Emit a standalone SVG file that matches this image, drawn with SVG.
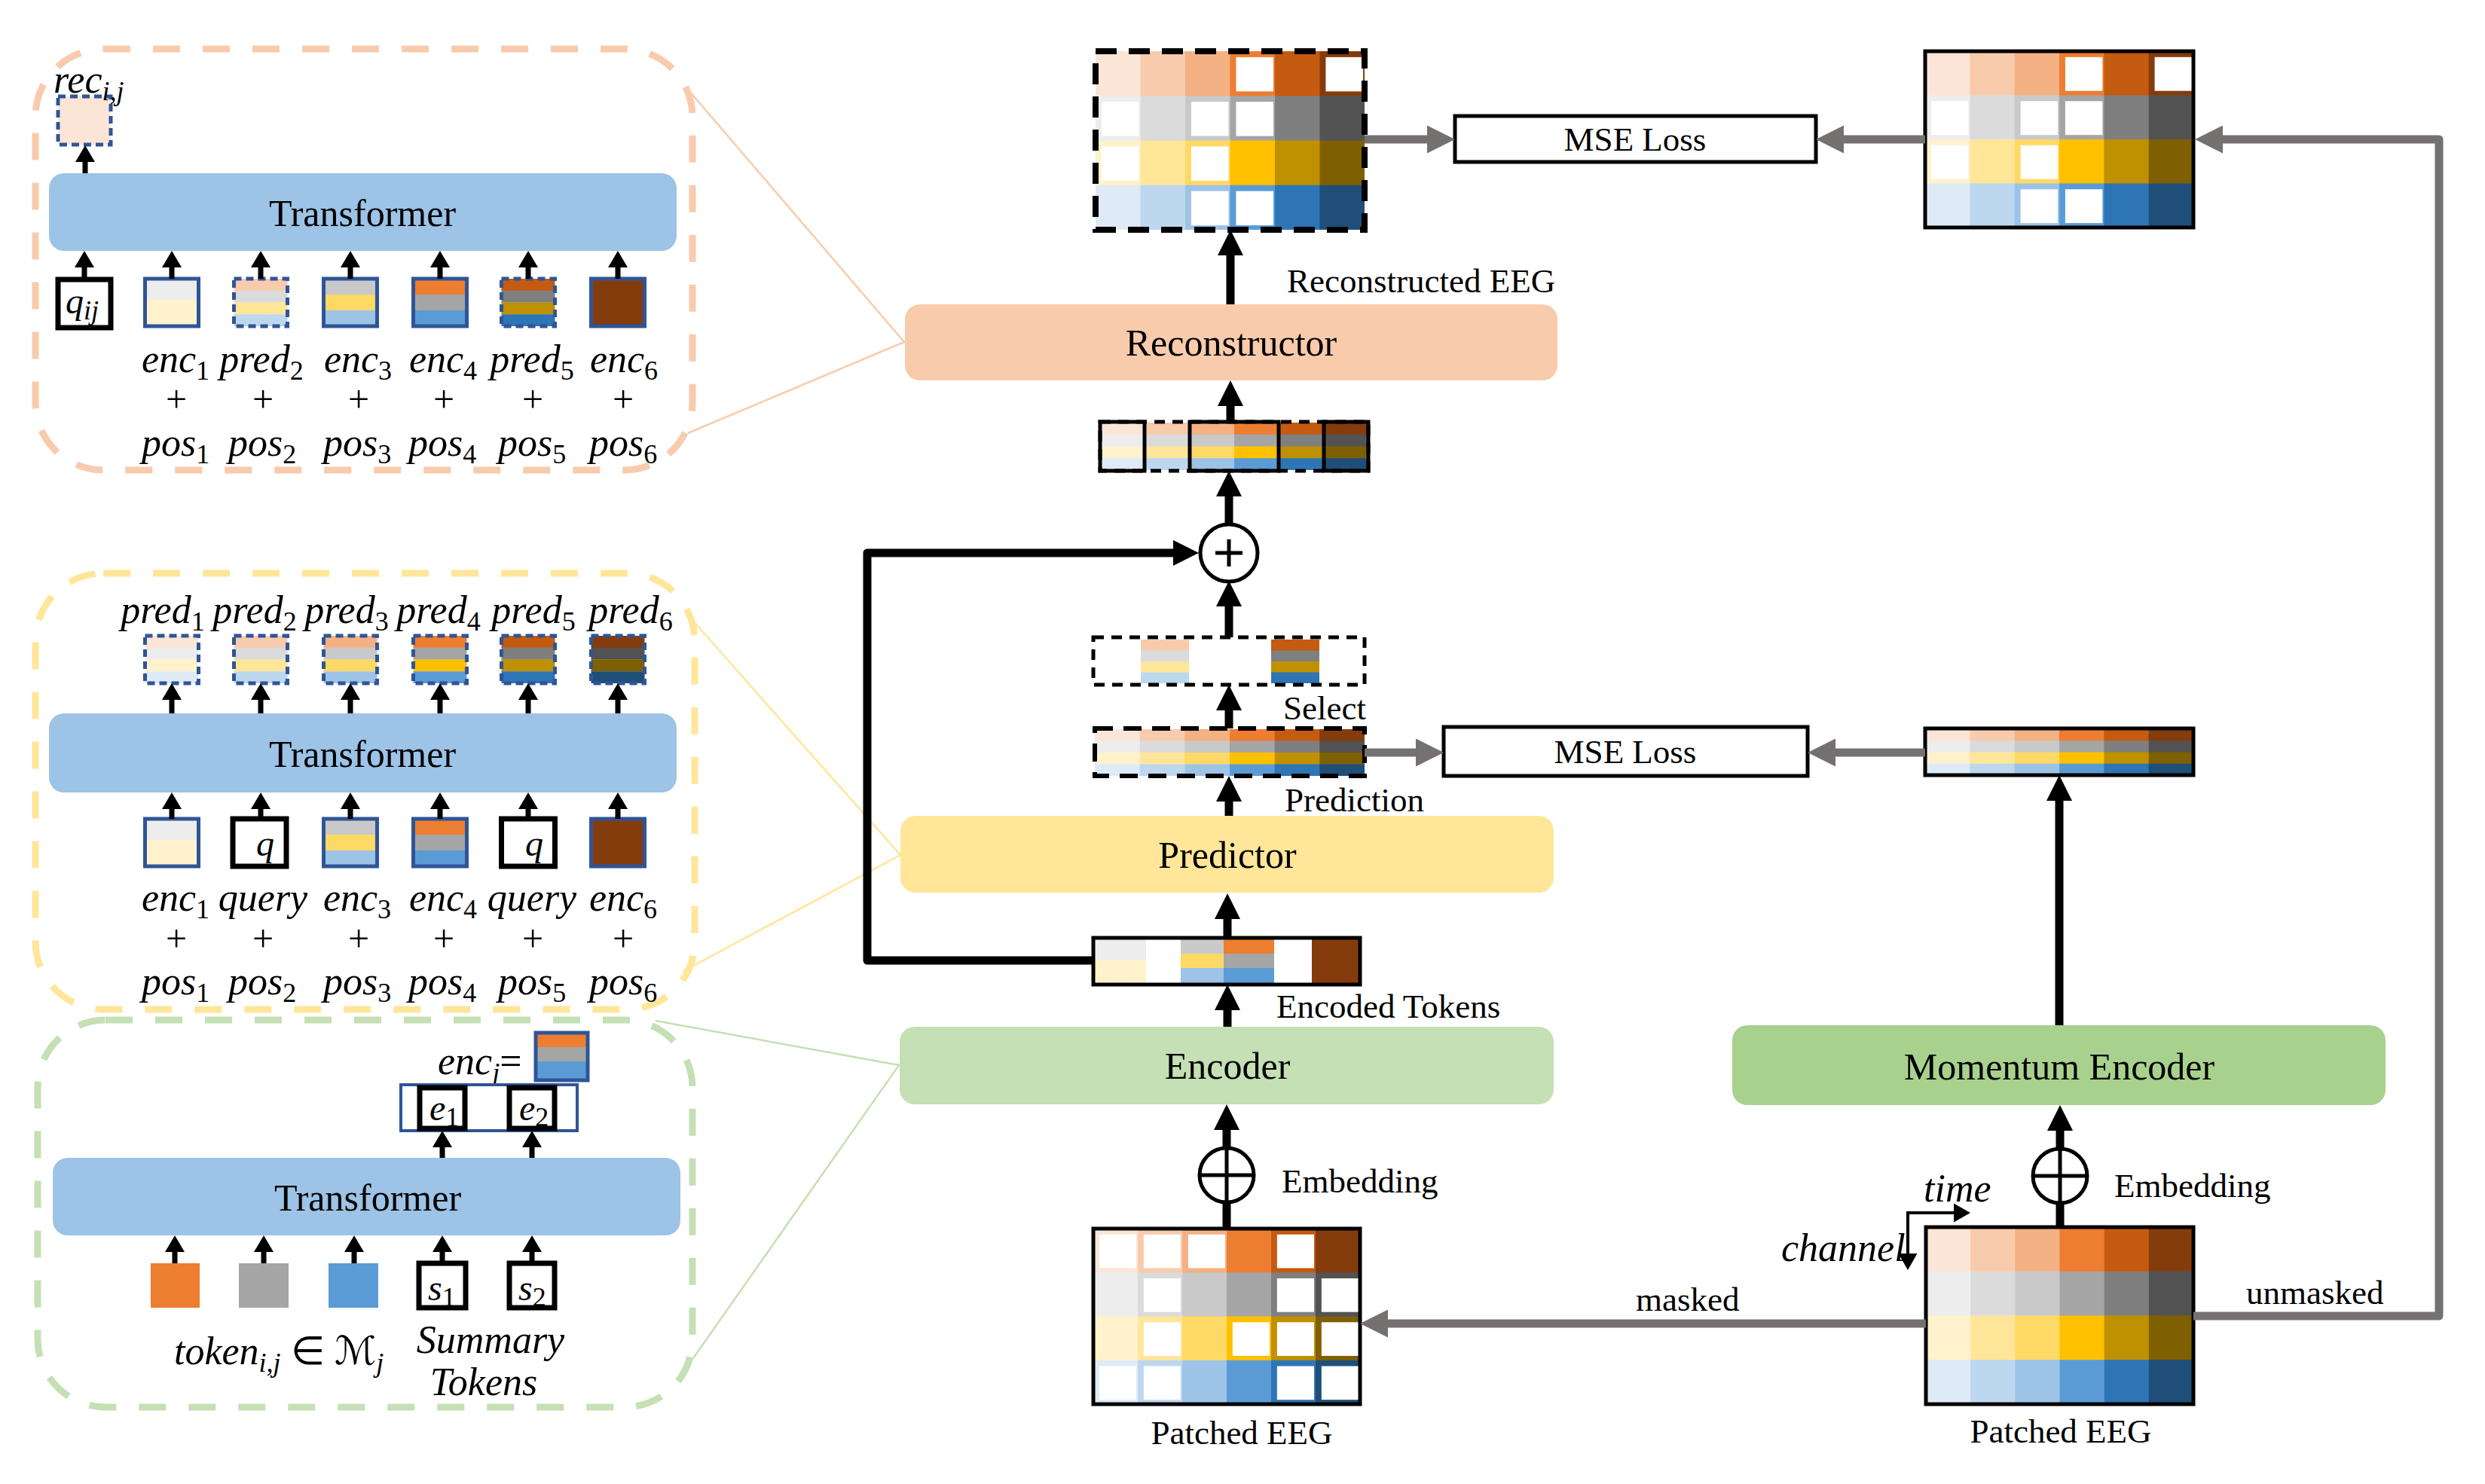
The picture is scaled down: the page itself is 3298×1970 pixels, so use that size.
<svg xmlns="http://www.w3.org/2000/svg" width="3298" height="1970" viewBox="0 0 3298 1970">
<style>
.lbl{font-family:"Liberation Serif","Times New Roman",serif;font-size:45px;fill:#000}
.bx{font-family:"Liberation Serif","Times New Roman",serif;font-size:50px;text-anchor:middle;fill:#000}
.m{font-family:"Liberation Serif","Times New Roman",serif;font-style:italic;font-size:52px;fill:#000}
.mi{font-family:"Liberation Serif","Times New Roman",serif;font-style:italic;font-size:48px;fill:#000}
.c{text-anchor:middle}
.sb{font-size:36px;font-style:normal}
.si{font-size:36px}
.pl{font-family:"Liberation Serif","Times New Roman",serif;font-size:50px;text-anchor:middle;fill:#000}
.arr{stroke:#000;stroke-width:11;fill:none}
.arrs{stroke:#000;stroke-width:7;fill:none}
.garr{stroke:#767171;stroke-width:11;fill:none;stroke-linejoin:round}
.tk{stroke:#2F5597;stroke-width:5;fill:none}
.tkd{stroke:#2F5597;stroke-width:5;fill:none;stroke-dasharray:10 6}
.qb{stroke:#000;stroke-width:7;fill:#fff}
.bd{stroke:#000;stroke-width:5;fill:none}
.bdd{stroke:#000;stroke-width:5;fill:none;stroke-dasharray:14 10}
.w{fill:#fff}
.tf{fill:#9DC3E6}
.pan{fill:none;stroke-width:9;stroke-dasharray:36 30}
.zl{fill:none;stroke-width:2.5}
.circ{fill:#fff;stroke:#000;stroke-width:5}
</style>
<defs>
<marker id="ah" markerUnits="userSpaceOnUse" markerWidth="34" markerHeight="34" refX="0" refY="17" orient="auto"><path d="M0,0 L34,17 L0,34 z" fill="#000"/></marker>
<marker id="ahs" markerUnits="userSpaceOnUse" markerWidth="22" markerHeight="26" refX="0" refY="13" orient="auto"><path d="M0,0 L22,13 L0,26 z" fill="#000"/></marker>
<marker id="ahg" markerUnits="userSpaceOnUse" markerWidth="37" markerHeight="37" refX="0" refY="18.5" orient="auto"><path d="M0,0 L37,18.5 L0,37 z" fill="#767171"/></marker>
<marker id="aht" markerUnits="userSpaceOnUse" markerWidth="22" markerHeight="25" refX="0" refY="12.5" orient="auto"><path d="M0,0 L22,12.5 L0,25 z" fill="#000"/></marker>
<g id="eeg">
<rect x="0" y="0" width="61" height="61" fill="#FBE5D6"/><rect x="60" y="0" width="61" height="61" fill="#F8CBAD"/><rect x="120" y="0" width="61" height="61" fill="#F4B183"/><rect x="180" y="0" width="61" height="61" fill="#ED7D31"/><rect x="240" y="0" width="61" height="61" fill="#C55A11"/><rect x="300" y="0" width="60" height="61" fill="#843C0C"/>
<rect x="0" y="60" width="61" height="61" fill="#EDEDED"/><rect x="60" y="60" width="61" height="61" fill="#DBDBDB"/><rect x="120" y="60" width="61" height="61" fill="#C9C9C9"/><rect x="180" y="60" width="61" height="61" fill="#A5A5A5"/><rect x="240" y="60" width="61" height="61" fill="#7F7F7F"/><rect x="300" y="60" width="60" height="61" fill="#525252"/>
<rect x="0" y="120" width="61" height="61" fill="#FFF2CC"/><rect x="60" y="120" width="61" height="61" fill="#FFE699"/><rect x="120" y="120" width="61" height="61" fill="#FFD966"/><rect x="180" y="120" width="61" height="61" fill="#FFC000"/><rect x="240" y="120" width="61" height="61" fill="#BF9000"/><rect x="300" y="120" width="60" height="61" fill="#7F6000"/>
<rect x="0" y="180" width="61" height="60" fill="#DEEBF7"/><rect x="60" y="180" width="61" height="60" fill="#BDD7EE"/><rect x="120" y="180" width="61" height="60" fill="#9DC3E6"/><rect x="180" y="180" width="61" height="60" fill="#5B9BD5"/><rect x="240" y="180" width="61" height="60" fill="#2E75B6"/><rect x="300" y="180" width="60" height="60" fill="#1F4E79"/>
</g>
<g id="strip">
<rect x="0" y="0" width="61" height="17" fill="#FBE5D6"/><rect x="60" y="0" width="61" height="17" fill="#F8CBAD"/><rect x="120" y="0" width="61" height="17" fill="#F4B183"/><rect x="180" y="0" width="61" height="17" fill="#ED7D31"/><rect x="240" y="0" width="61" height="17" fill="#C55A11"/><rect x="300" y="0" width="60" height="17" fill="#843C0C"/>
<rect x="0" y="16" width="61" height="17" fill="#EDEDED"/><rect x="60" y="16" width="61" height="17" fill="#DBDBDB"/><rect x="120" y="16" width="61" height="17" fill="#C9C9C9"/><rect x="180" y="16" width="61" height="17" fill="#A5A5A5"/><rect x="240" y="16" width="61" height="17" fill="#7F7F7F"/><rect x="300" y="16" width="60" height="17" fill="#525252"/>
<rect x="0" y="32" width="61" height="17" fill="#FFF2CC"/><rect x="60" y="32" width="61" height="17" fill="#FFE699"/><rect x="120" y="32" width="61" height="17" fill="#FFD966"/><rect x="180" y="32" width="61" height="17" fill="#FFC000"/><rect x="240" y="32" width="61" height="17" fill="#BF9000"/><rect x="300" y="32" width="60" height="17" fill="#7F6000"/>
<rect x="0" y="48" width="61" height="16" fill="#DEEBF7"/><rect x="60" y="48" width="61" height="16" fill="#BDD7EE"/><rect x="120" y="48" width="61" height="16" fill="#9DC3E6"/><rect x="180" y="48" width="61" height="16" fill="#5B9BD5"/><rect x="240" y="48" width="61" height="16" fill="#2E75B6"/><rect x="300" y="48" width="60" height="16" fill="#1F4E79"/>
</g>
<g id="maskA" class="w">
<rect x="188" y="8" width="50" height="46"/><rect x="308" y="8" width="50" height="46"/>
<rect x="8" y="68" width="50" height="46"/><rect x="128" y="68" width="50" height="46"/><rect x="188" y="68" width="50" height="46"/>
<rect x="8" y="128" width="50" height="46"/><rect x="128" y="128" width="50" height="46"/>
<rect x="128" y="188" width="50" height="46"/><rect x="188" y="188" width="50" height="46"/>
</g>
<g id="maskB" class="w">
<rect x="8" y="8" width="50" height="46"/><rect x="68" y="8" width="50" height="46"/><rect x="128" y="8" width="50" height="46"/><rect x="248" y="8" width="50" height="46"/>
<rect x="68" y="68" width="50" height="46"/><rect x="248" y="68" width="50" height="46"/><rect x="308" y="68" width="50" height="46"/>
<rect x="68" y="128" width="50" height="46"/><rect x="188" y="128" width="50" height="46"/><rect x="248" y="128" width="50" height="46"/><rect x="308" y="128" width="50" height="46"/>
<rect x="8" y="188" width="50" height="46"/><rect x="68" y="188" width="50" height="46"/><rect x="248" y="188" width="50" height="46"/><rect x="308" y="188" width="50" height="46"/>
</g>
</defs>
<rect x="0" y="0" width="3298" height="1970" fill="#fff"/>

<!-- zoom lines from detail panels -->
<g id="zoom-lines">
<path class="zl" stroke="#F8CBAD" d="M915,121 L1200,454 L913,575"/>
<path class="zl" stroke="#FFE699" d="M917,821 L1195,1135 L907,1289"/>
<path class="zl" stroke="#C5E0B4" d="M870,1355 L1193,1414 L920,1803"/>
</g>

<!-- Panel 1: reconstructor detail -->
<g id="panel-reconstructor">
<rect class="pan" stroke="#F8CBAD" x="47" y="65" width="872" height="559" rx="90"/>
<rect class="tf" x="65" y="230" width="833" height="103" rx="20"/>
<text class="bx" x="481" y="300">Transformer</text>
<rect x="77" y="128" width="70" height="64" fill="#FBE5D6"/>
<rect x="77" y="128" width="70" height="64" class="tkd"/>
<text class="m" x="71" y="123">rec<tspan class="si" dy="10">i,j</tspan></text>
<rect x="77" y="371" width="70" height="64" class="qb"/>
<text class="mi" x="87" y="416">q<tspan class="si" dy="8">ij</tspan></text>
<rect x="192.5" y="370" width="71" height="28" fill="#EDEDED"/><rect x="192.5" y="398" width="71" height="35" fill="#FFF2CC"/><rect x="192.5" y="370" width="71" height="63" class="tk"/>
<rect x="310.5" y="370" width="71" height="16" fill="#F8CBAD"/><rect x="310.5" y="385.75" width="71" height="16" fill="#DBDBDB"/><rect x="310.5" y="401.5" width="71" height="16" fill="#FFE699"/><rect x="310.5" y="417.25" width="71" height="15.75" fill="#BDD7EE"/><rect x="310.5" y="370" width="71" height="63" class="tkd"/>
<rect x="429.5" y="370" width="71" height="21" fill="#C9C9C9"/><rect x="429.5" y="391" width="71" height="21" fill="#FFD966"/><rect x="429.5" y="412" width="71" height="21" fill="#9DC3E6"/><rect x="429.5" y="370" width="71" height="63" class="tk"/>
<rect x="548.5" y="370" width="71" height="21" fill="#ED7D31"/><rect x="548.5" y="391" width="71" height="21" fill="#A5A5A5"/><rect x="548.5" y="412" width="71" height="21" fill="#5B9BD5"/><rect x="548.5" y="370" width="71" height="63" class="tk"/>
<rect x="665.5" y="370" width="71" height="16" fill="#C55A11"/><rect x="665.5" y="385.75" width="71" height="16" fill="#7F7F7F"/><rect x="665.5" y="401.5" width="71" height="16" fill="#BF9000"/><rect x="665.5" y="417.25" width="71" height="15.75" fill="#2E75B6"/><rect x="665.5" y="370" width="71" height="63" class="tkd"/>
<rect x="784.5" y="370" width="71" height="63" fill="#843C0C"/><rect x="784.5" y="370" width="71" height="63" class="tk"/>
<text class="m c" x="233" y="494">enc<tspan class="sb" dy="10">1</tspan></text>
<text class="m c" x="347" y="494">pred<tspan class="sb" dy="10">2</tspan></text>
<text class="m c" x="475" y="494">enc<tspan class="sb" dy="10">3</tspan></text>
<text class="m c" x="588" y="494">enc<tspan class="sb" dy="10">4</tspan></text>
<text class="m c" x="706" y="494">pred<tspan class="sb" dy="10">5</tspan></text>
<text class="m c" x="828" y="494">enc<tspan class="sb" dy="10">6</tspan></text>
<text class="pl" x="234" y="547">+</text><text class="pl" x="349" y="547">+</text><text class="pl" x="476" y="547">+</text><text class="pl" x="589" y="547">+</text><text class="pl" x="707" y="547">+</text><text class="pl" x="827" y="547">+</text>
<text class="m c" x="233" y="605">pos<tspan class="sb" dy="10">1</tspan></text>
<text class="m c" x="348" y="605">pos<tspan class="sb" dy="10">2</tspan></text>
<text class="m c" x="474" y="605">pos<tspan class="sb" dy="10">3</tspan></text>
<text class="m c" x="587" y="605">pos<tspan class="sb" dy="10">4</tspan></text>
<text class="m c" x="706" y="605">pos<tspan class="sb" dy="10">5</tspan></text>
<text class="m c" x="827" y="605">pos<tspan class="sb" dy="10">6</tspan></text>
<path class="arrs" marker-end="url(#ahs)" d="M113,230 V215"/>
<path class="arrs" marker-end="url(#ahs)" d="M112,371 V355"/>
<path class="arrs" marker-end="url(#ahs)" d="M228,370 V355"/>
<path class="arrs" marker-end="url(#ahs)" d="M346,370 V355"/>
<path class="arrs" marker-end="url(#ahs)" d="M465,370 V355"/>
<path class="arrs" marker-end="url(#ahs)" d="M584,370 V355"/>
<path class="arrs" marker-end="url(#ahs)" d="M701,370 V355"/>
<path class="arrs" marker-end="url(#ahs)" d="M820,370 V355"/>
</g>

<!-- Panel 2: predictor detail -->
<g id="panel-predictor">
<rect class="pan" stroke="#FFE699" x="47" y="761" width="875" height="579" rx="90"/>
<rect class="tf" x="65" y="947" width="833" height="105" rx="20"/>
<text class="bx" x="481" y="1018">Transformer</text>
<text class="m c" x="216" y="827">pred<tspan class="sb" dy="10">1</tspan></text>
<text class="m c" x="338" y="827">pred<tspan class="sb" dy="10">2</tspan></text>
<text class="m c" x="460" y="827">pred<tspan class="sb" dy="10">3</tspan></text>
<text class="m c" x="582" y="827">pred<tspan class="sb" dy="10">4</tspan></text>
<text class="m c" x="708" y="827">pred<tspan class="sb" dy="10">5</tspan></text>
<text class="m c" x="837" y="827">pred<tspan class="sb" dy="10">6</tspan></text>
<rect x="192.5" y="844" width="71" height="16" fill="#FBE5D6"/><rect x="192.5" y="859.75" width="71" height="16" fill="#EDEDED"/><rect x="192.5" y="875.5" width="71" height="16" fill="#FFF2CC"/><rect x="192.5" y="891.25" width="71" height="15.75" fill="#DEEBF7"/><rect x="192.5" y="844" width="71" height="63" class="tkd"/>
<rect x="310.5" y="844" width="71" height="16" fill="#F8CBAD"/><rect x="310.5" y="859.75" width="71" height="16" fill="#DBDBDB"/><rect x="310.5" y="875.5" width="71" height="16" fill="#FFE699"/><rect x="310.5" y="891.25" width="71" height="15.75" fill="#BDD7EE"/><rect x="310.5" y="844" width="71" height="63" class="tkd"/>
<rect x="429.5" y="844" width="71" height="16" fill="#F4B183"/><rect x="429.5" y="859.75" width="71" height="16" fill="#C9C9C9"/><rect x="429.5" y="875.5" width="71" height="16" fill="#FFD966"/><rect x="429.5" y="891.25" width="71" height="15.75" fill="#9DC3E6"/><rect x="429.5" y="844" width="71" height="63" class="tkd"/>
<rect x="548.5" y="844" width="71" height="16" fill="#ED7D31"/><rect x="548.5" y="859.75" width="71" height="16" fill="#A5A5A5"/><rect x="548.5" y="875.5" width="71" height="16" fill="#FFC000"/><rect x="548.5" y="891.25" width="71" height="15.75" fill="#5B9BD5"/><rect x="548.5" y="844" width="71" height="63" class="tkd"/>
<rect x="665.5" y="844" width="71" height="16" fill="#C55A11"/><rect x="665.5" y="859.75" width="71" height="16" fill="#7F7F7F"/><rect x="665.5" y="875.5" width="71" height="16" fill="#BF9000"/><rect x="665.5" y="891.25" width="71" height="15.75" fill="#2E75B6"/><rect x="665.5" y="844" width="71" height="63" class="tkd"/>
<rect x="784.5" y="844" width="71" height="16" fill="#843C0C"/><rect x="784.5" y="859.75" width="71" height="16" fill="#525252"/><rect x="784.5" y="875.5" width="71" height="16" fill="#7F6000"/><rect x="784.5" y="891.25" width="71" height="15.75" fill="#1F4E79"/><rect x="784.5" y="844" width="71" height="63" class="tkd"/>
<rect x="192.5" y="1087" width="71" height="28" fill="#EDEDED"/><rect x="192.5" y="1115" width="71" height="35" fill="#FFF2CC"/><rect x="192.5" y="1087" width="71" height="63" class="tk"/>
<rect x="309" y="1087" width="71" height="63" class="qb"/><text class="mi c" x="352" y="1136">q</text>
<rect x="429.5" y="1087" width="71" height="21" fill="#C9C9C9"/><rect x="429.5" y="1108" width="71" height="21" fill="#FFD966"/><rect x="429.5" y="1129" width="71" height="21" fill="#9DC3E6"/><rect x="429.5" y="1087" width="71" height="63" class="tk"/>
<rect x="548.5" y="1087" width="71" height="21" fill="#ED7D31"/><rect x="548.5" y="1108" width="71" height="21" fill="#A5A5A5"/><rect x="548.5" y="1129" width="71" height="21" fill="#5B9BD5"/><rect x="548.5" y="1087" width="71" height="63" class="tk"/>
<rect x="665.5" y="1087" width="71" height="63" class="qb"/><text class="mi c" x="709" y="1136">q</text>
<rect x="784.5" y="1087" width="71" height="63" fill="#843C0C"/><rect x="784.5" y="1087" width="71" height="63" class="tk"/>
<text class="m c" x="233" y="1209">enc<tspan class="sb" dy="10">1</tspan></text>
<text class="m c" x="349" y="1209">query</text>
<text class="m c" x="474" y="1209">enc<tspan class="sb" dy="10">3</tspan></text>
<text class="m c" x="588" y="1209">enc<tspan class="sb" dy="10">4</tspan></text>
<text class="m c" x="706" y="1209">query</text>
<text class="m c" x="827" y="1209">enc<tspan class="sb" dy="10">6</tspan></text>
<text class="pl" x="234" y="1263">+</text><text class="pl" x="349" y="1263">+</text><text class="pl" x="476" y="1263">+</text><text class="pl" x="589" y="1263">+</text><text class="pl" x="707" y="1263">+</text><text class="pl" x="827" y="1263">+</text>
<text class="m c" x="233" y="1320">pos<tspan class="sb" dy="10">1</tspan></text>
<text class="m c" x="348" y="1320">pos<tspan class="sb" dy="10">2</tspan></text>
<text class="m c" x="474" y="1320">pos<tspan class="sb" dy="10">3</tspan></text>
<text class="m c" x="587" y="1320">pos<tspan class="sb" dy="10">4</tspan></text>
<text class="m c" x="706" y="1320">pos<tspan class="sb" dy="10">5</tspan></text>
<text class="m c" x="827" y="1320">pos<tspan class="sb" dy="10">6</tspan></text>
<path class="arrs" marker-end="url(#ahs)" d="M228,947 V929"/>
<path class="arrs" marker-end="url(#ahs)" d="M346,947 V929"/>
<path class="arrs" marker-end="url(#ahs)" d="M465,947 V929"/>
<path class="arrs" marker-end="url(#ahs)" d="M584,947 V929"/>
<path class="arrs" marker-end="url(#ahs)" d="M701,947 V929"/>
<path class="arrs" marker-end="url(#ahs)" d="M820,947 V929"/>
<path class="arrs" marker-end="url(#ahs)" d="M228,1087 V1074"/>
<path class="arrs" marker-end="url(#ahs)" d="M346,1087 V1074"/>
<path class="arrs" marker-end="url(#ahs)" d="M465,1087 V1074"/>
<path class="arrs" marker-end="url(#ahs)" d="M584,1087 V1074"/>
<path class="arrs" marker-end="url(#ahs)" d="M701,1087 V1074"/>
<path class="arrs" marker-end="url(#ahs)" d="M820,1087 V1074"/>
</g>

<!-- Panel 3: encoder detail -->
<g id="panel-encoder">
<rect class="pan" stroke="#C5E0B4" x="50" y="1354" width="869" height="514" rx="90"/>
<rect class="tf" x="70" y="1537" width="833" height="103" rx="20"/>
<text class="bx" x="488" y="1607">Transformer</text>
<text class="m" x="581" y="1426">enc<tspan class="si" dy="10">j</tspan><tspan dy="-10" font-style="normal">=</tspan></text>
<rect x="711" y="1371" width="69" height="20" fill="#ED7D31"/><rect x="711" y="1390" width="69" height="20" fill="#A5A5A5"/><rect x="711" y="1409" width="69" height="25" fill="#5B9BD5"/><rect x="711" y="1371" width="69" height="63" class="tk"/>
<rect x="532" y="1440" width="234" height="61" fill="#fff" stroke="#2F5597" stroke-width="4"/>
<rect x="557" y="1444" width="60" height="54" class="qb"/><text class="mi" x="570" y="1487">e<tspan class="sb" dy="8">1</tspan></text>
<rect x="676" y="1444" width="60" height="54" class="qb"/><text class="mi" x="689" y="1487">e<tspan class="sb" dy="8">2</tspan></text>
<rect x="200" y="1677" width="65" height="59" fill="#ED7D31"/>
<rect x="317" y="1677" width="66" height="59" fill="#A5A5A5"/>
<rect x="436" y="1677" width="66" height="59" fill="#5B9BD5"/>
<rect x="556" y="1677" width="62" height="59" class="qb"/><text class="mi" x="568" y="1726">s<tspan class="sb" dy="8">1</tspan></text>
<rect x="676" y="1677" width="60" height="59" class="qb"/><text class="mi" x="688" y="1726">s<tspan class="sb" dy="8">2</tspan></text>
<text class="m" x="231" y="1811">token<tspan class="si" dy="10">i,j</tspan><tspan dy="-10" font-style="normal"> ∈ </tspan><tspan font-family="DejaVu Serif, DejaVu Sans, serif">ℳ</tspan><tspan class="si" dy="10">j</tspan></text>
<text class="m c" x="651" y="1796">Summary</text>
<text class="m c" x="642" y="1852">Tokens</text>
<path class="arrs" marker-end="url(#ahs)" d="M587,1537 V1523"/>
<path class="arrs" marker-end="url(#ahs)" d="M706,1537 V1523"/>
<path class="arrs" marker-end="url(#ahs)" d="M232,1677 V1662"/>
<path class="arrs" marker-end="url(#ahs)" d="M350,1677 V1662"/>
<path class="arrs" marker-end="url(#ahs)" d="M470,1677 V1662"/>
<path class="arrs" marker-end="url(#ahs)" d="M587,1677 V1662"/>
<path class="arrs" marker-end="url(#ahs)" d="M706,1677 V1662"/>
</g>

<!-- Main nodes -->
<g id="reconstructed-eeg">
<g transform="translate(1454,68) scale(0.9917,0.9875)"><use href="#eeg"/><use href="#maskA"/></g>
<rect x="1454" y="68" width="357" height="237" fill="none" stroke="#000" stroke-width="8" stroke-dasharray="28 16"/>
</g>
<g id="target-eeg">
<g transform="translate(2555,68) scale(0.9889,0.975)"><use href="#eeg"/><use href="#maskA"/></g>
<rect x="2555" y="68" width="356" height="234" class="bd"/>
</g>
<g id="mse-loss-1">
<rect x="1931" y="154" width="479" height="61" fill="#fff" stroke="#000" stroke-width="5"/>
<text class="lbl" x="2170" y="200" text-anchor="middle">MSE Loss</text>
</g>
<g id="reconstructor">
<rect x="1201" y="404" width="866" height="101" rx="20" fill="#F8CBAD"/>
<text class="bx" x="1634" y="472">Reconstructor</text>
</g>
<text class="lbl" x="1708" y="388">Reconstructed EEG</text>
<g id="combined-tokens">
<g transform="translate(1460,561) scale(0.9889,0.984)"><use href="#strip"/></g>
<rect x="1460" y="560" width="356" height="65" class="bdd"/>
<rect x="1460" y="560" width="59" height="65" class="bd"/>
<rect x="1579" y="560" width="118" height="65" class="bd"/>
<rect x="1757" y="560" width="59" height="65" class="bd"/>
</g>
<g id="add">
<circle cx="1631" cy="734" r="38" class="circ"/>
<path d="M1613,734 H1649 M1631,716 V752" stroke="#000" stroke-width="5"/>
</g>
<g id="selected-tokens">
<rect x="1514" y="849" width="64" height="15" fill="#F8CBAD"/><rect x="1514" y="863.5" width="64" height="15" fill="#DBDBDB"/><rect x="1514" y="878" width="64" height="15" fill="#FFE699"/><rect x="1514" y="892.5" width="64" height="14.5" fill="#BDD7EE"/>
<rect x="1687" y="849" width="64" height="15" fill="#C55A11"/><rect x="1687" y="863.5" width="64" height="15" fill="#7F7F7F"/><rect x="1687" y="878" width="64" height="15" fill="#BF9000"/><rect x="1687" y="892.5" width="64" height="14.5" fill="#2E75B6"/>
<rect x="1451" y="846" width="360" height="63" class="bdd"/>
</g>
<text class="lbl" x="1703" y="955">Select</text>
<g id="prediction-tokens">
<g transform="translate(1453,968) scale(0.9944,0.969)"><use href="#strip"/></g>
<rect x="1453" y="967" width="358" height="63" fill="none" stroke="#000" stroke-width="6" stroke-dasharray="24 14"/>
</g>
<text class="lbl" x="1705" y="1077">Prediction</text>
<g id="mse-loss-2">
<rect x="1916" y="965" width="483" height="65" fill="#fff" stroke="#000" stroke-width="5"/>
<text class="lbl" x="2157" y="1013" text-anchor="middle">MSE Loss</text>
</g>
<g id="target-tokens">
<g transform="translate(2555,968) scale(0.9889,0.953)"><use href="#strip"/></g>
<rect x="2555" y="967" width="356" height="62" class="bd"/>
</g>
<g id="predictor">
<rect x="1195" y="1083" width="867" height="102" rx="20" fill="#FFE699"/>
<text class="bx" x="1629" y="1152">Predictor</text>
</g>
<g id="encoded-tokens">
<rect x="1451" y="1245" width="70" height="29" fill="#EDEDED"/><rect x="1451" y="1274" width="70" height="33" fill="#FFF2CC"/>
<rect x="1567" y="1245" width="57" height="21" fill="#C9C9C9"/><rect x="1567" y="1266" width="57" height="19" fill="#FFD966"/><rect x="1567" y="1285" width="57" height="22" fill="#9DC3E6"/>
<rect x="1624" y="1245" width="67" height="21" fill="#ED7D31"/><rect x="1624" y="1266" width="67" height="19" fill="#A5A5A5"/><rect x="1624" y="1285" width="67" height="22" fill="#5B9BD5"/>
<rect x="1741" y="1245" width="64" height="62" fill="#843C0C"/>
<rect x="1451" y="1245" width="354" height="62" class="bd"/>
</g>
<text class="lbl" x="1694" y="1351">Encoded Tokens</text>
<g id="encoder">
<rect x="1194" y="1363" width="868" height="103" rx="20" fill="#C5E0B4"/>
<text class="bx" x="1629" y="1432">Encoder</text>
</g>
<g id="momentum-encoder">
<rect x="2299" y="1361" width="867" height="106" rx="20" fill="#A9D18E"/>
<text class="bx" x="2733" y="1433">Momentum Encoder</text>
</g>
<g id="embedding-1">
<circle cx="1628" cy="1560" r="36" class="circ"/>
<path d="M1592,1560 H1664 M1628,1524 V1596" stroke="#000" stroke-width="5"/>
</g>
<text class="lbl" x="1701" y="1583">Embedding</text>
<g id="embedding-2">
<circle cx="2734" cy="1561" r="36" class="circ"/>
<path d="M2698,1561 H2770 M2734,1525 V1597" stroke="#000" stroke-width="5"/>
</g>
<text class="lbl" x="2806" y="1589">Embedding</text>
<g id="masked-eeg">
<g transform="translate(1451,1631) scale(0.9833,0.9708)"><use href="#eeg"/><use href="#maskB"/></g>
<rect x="1451" y="1631" width="354" height="233" class="bd"/>
</g>
<text class="lbl" x="1648" y="1917" text-anchor="middle">Patched EEG</text>
<g id="patched-eeg">
<g transform="translate(2556,1629) scale(0.9861,0.979)"><use href="#eeg"/></g>
<rect x="2556" y="1629" width="355" height="235" class="bd"/>
</g>
<text class="lbl" x="2735" y="1915" text-anchor="middle">Patched EEG</text>
<text class="m" x="2553" y="1595">time</text>
<text class="m" x="2364" y="1674">channel</text>
<text class="lbl" x="2171" y="1740">masked</text>
<text class="lbl" x="2981" y="1731">unmasked</text>

<!-- Connectors -->
<g id="connectors">
<path class="arr" marker-end="url(#ah)" d="M1633,404 V339"/>
<path class="arr" marker-end="url(#ah)" d="M1633,560 V539"/>
<path class="arr" marker-end="url(#ah)" d="M1631,696 V659"/>
<path class="arr" marker-end="url(#ah)" d="M1631,846 V805"/>
<path class="arr" marker-end="url(#ah)" d="M1631,967 V943"/>
<path class="arr" marker-end="url(#ah)" d="M1631,1083 V1064"/>
<path class="arr" marker-end="url(#ah)" d="M1629,1245 V1220"/>
<path class="arr" marker-end="url(#ah)" d="M1629,1363 V1341"/>
<path class="arr" marker-end="url(#ah)" d="M1628,1524 V1500"/>
<path class="arr" d="M1628,1631 V1596"/>
<path class="arr" d="M2734,1629 V1597"/>
<path class="arr" marker-end="url(#ah)" d="M2734,1525 V1501"/>
<path class="arr" marker-end="url(#ah)" d="M2733,1361 V1063"/>
<path class="arr" stroke-linejoin="round" marker-end="url(#ah)" d="M1451,1275 H1151 V734 H1557"/>
<path class="garr" marker-end="url(#ahg)" d="M1811,185 H1894"/>
<path class="garr" marker-end="url(#ahg)" d="M2555,185 H2447"/>
<path class="garr" marker-end="url(#ahg)" d="M2911,1747 H3237 V185 H2950"/>
<path class="garr" marker-end="url(#ahg)" d="M1811,999 H1879"/>
<path class="garr" marker-end="url(#ahg)" d="M2555,999 H2436"/>
<path class="garr" marker-end="url(#ahg)" d="M2556,1757 H1842"/>
<path stroke="#000" stroke-width="4" fill="none" marker-end="url(#aht)" d="M2532,1608 V1664"/>
<path stroke="#000" stroke-width="4" fill="none" marker-end="url(#aht)" d="M2530,1610 H2593"/>
</g>
</svg>
